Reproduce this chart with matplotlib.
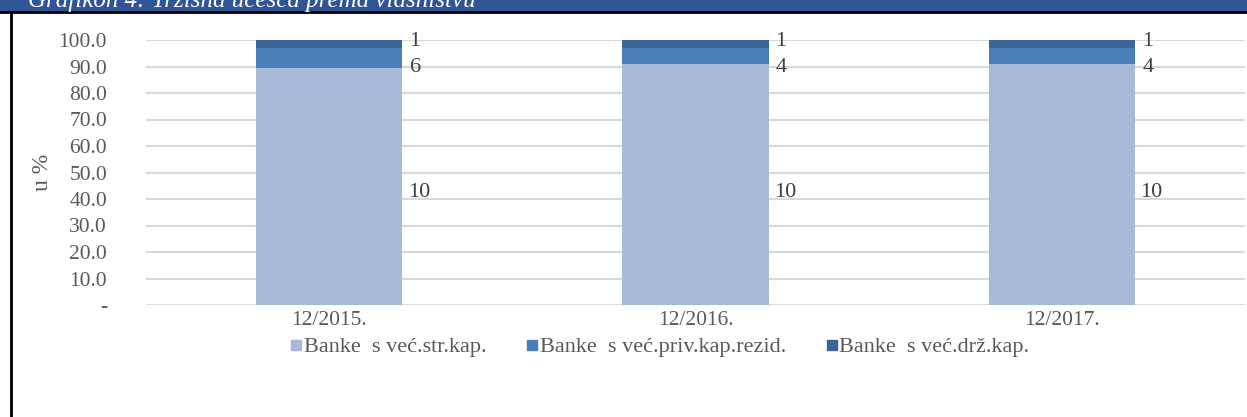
import numpy as np
import matplotlib.pyplot as plt
from matplotlib.lines import Line2D
from matplotlib.patches import Rectangle

plt.rcParams['font.family'] = ['Liberation Serif', 'DejaVu Serif']

periods = ['12/2015.', '12/2016.', '12/2017.']
series = ['Banke  s već.str.kap.', 'Banke  s već.priv.kap.rezid.', 'Banke  s već.drž.kap.']
# market share in % (bar heights)
strani = [89.6, 90.8, 90.9]
privatni = [7.5, 6.3, 6.2]
drzavni = [2.9, 2.9, 2.9]
# number of banks (data labels)
n_strani = [10, 10, 10]
n_privatni = [6, 4, 4]
n_drzavni = [1, 1, 1]

colors = ['#a9b9d8', '#4a7ebb', '#3d6598']
grey = '#595959'

fig = plt.figure(figsize=(12.47, 4.17), dpi=100)

# title bar (cut at top in the original)
fig.patches.append(Rectangle((0, 1 - 11 / 417), 1, 11 / 417, transform=fig.transFigure,
                             color='#2f5597', zorder=0))
fig.add_artist(Line2D([0, 1], [1 - 12 / 417, 1 - 12 / 417], transform=fig.transFigure,
                      color='black', lw=2))
fig.add_artist(Line2D([11 / 1247, 11 / 1247], [0, 1 - 12 / 417], transform=fig.transFigure,
                      color='black', lw=2))
fig.text(28 / 1247, 1 - 1 / 417, 'Grafikon 4: Tržišna učešća prema vlasništvu', color='white',
         fontsize=18, style='italic', va='center', ha='left')

ax = fig.add_axes([146 / 1247, 112 / 417, 1099 / 1247, 265 / 417])
x = np.arange(len(periods))
w = 0.4
ax.bar(x, strani, w, color=colors[0], label=series[0], zorder=3)
ax.bar(x, privatni, w, bottom=strani, color=colors[1], label=series[1], zorder=3)
bottom3 = np.array(strani) + np.array(privatni)
ax.bar(x, drzavni, w, bottom=bottom3, color=colors[2], label=series[2], zorder=3)

# data labels to the right of each bar
for i in x:
    ax.text(i + w / 2 + 0.015, 42.3, str(n_strani[i]), fontsize=16, color='#404040',
            va='center', ha='left')
    ax.text(i + w / 2 + 0.02, 89.6, str(n_privatni[i]), fontsize=16, color='#404040',
            va='center', ha='left')
    ax.text(i + w / 2 + 0.018, 99.4, str(n_drzavni[i]), fontsize=16, color='#404040',
            va='center', ha='left')

ax.set_xlim(-0.5, 2.5)
ax.set_ylim(0, 100)
ticks = np.arange(0, 101, 10)
ax.set_yticks(ticks)
ax.set_yticklabels(['-'] + ['%.1f' % t for t in ticks[1:]], fontsize=15.5, color=grey)
ax.set_xticks(x)
ax.set_xticklabels(periods, fontsize=15.5, color=grey)
ax.tick_params(axis='both', length=0)
ax.tick_params(axis='y', pad=28)
ax.tick_params(axis='x', pad=4)
ax.grid(axis='y', color='#d9d9d9', lw=1.5, zorder=0)
for s in ax.spines.values():
    s.set_visible(False)
ax.axhline(0, color='#d9d9d9', lw=1.5, zorder=2)
ax.set_ylabel('u %', fontsize=17, color=grey, labelpad=4)

handles = [Line2D([], [], marker='s', ls='', color=c, markersize=7) for c in colors]
fig.legend(handles, series, loc='center', bbox_to_anchor=(660 / 1247, 1 - 347 / 417),
           ncol=3, frameon=False, fontsize=16, handlelength=0.5, handletextpad=0.1,
           columnspacing=1.8, labelcolor=grey)

fig.savefig('out.png', dpi=100)
